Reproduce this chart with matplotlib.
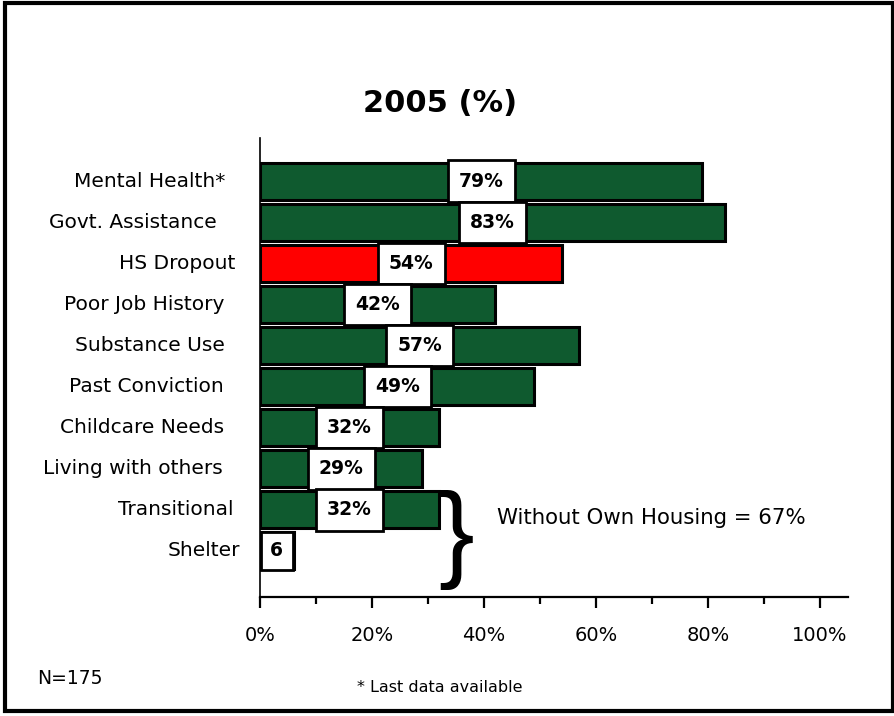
import matplotlib.pyplot as plt
from matplotlib.patches import Rectangle
from matplotlib.ticker import MultipleLocator, FuncFormatter

categories = ["Mental Health*", "Govt. Assistance", "HS Dropout", "Poor Job History",
              "Substance Use", "Past Conviction", "Childcare Needs", "Living with others",
              "Transitional", "Shelter"]
values = [79, 83, 54, 42, 57, 49, 32, 29, 32, 6]
value_labels = ["79%", "83%", "54%", "42%", "57%", "49%", "32%", "29%", "32%", "6"]
highlight = "HS Dropout"

# label offsets from the axis (points) - the original labels are not aligned evenly
label_offsets = [25, 31, 18, 26, 25, 26, 26, 27, 19, 14]

green = "#0F5A2F"
red = "#FF0000"

fig = plt.figure(figsize=(8.95, 7.16), dpi=100)
ax = fig.add_axes([0.2905, 0.1662, 0.657, 0.641])

ypos = list(range(len(categories)))
colors = [red if c == highlight else green for c in categories]
ax.barh(ypos, values, height=0.9, color=colors, edgecolor="black", linewidth=2.2)

for y, v, lab in zip(ypos, values, value_labels):
    pad = 0.6 if len(lab) > 1 else 0.5
    ax.text(v / 2, y, lab, ha="center", va="center", fontsize=13.5, fontweight="bold",
            bbox=dict(boxstyle=f"square,pad={pad}", fc="white", ec="black", lw=2))

for y, c, off in zip(ypos, categories, label_offsets):
    ax.annotate(c, xy=(0, y), xycoords=("axes fraction", "data"),
                xytext=(-off, 0), textcoords="offset points",
                ha="right", va="center", fontsize=14.5)

ax.set_xlim(0, 105)
ax.set_ylim(len(categories) - 1 + 1.12, -1.05)
ax.xaxis.set_major_locator(MultipleLocator(20))
ax.xaxis.set_minor_locator(MultipleLocator(10))
ax.xaxis.set_major_formatter(FuncFormatter(lambda x, p: f"{x:.0f}%" if x <= 100 else ""))
ax.tick_params(axis="x", which="major", direction="out", length=8, width=1.6,
               labelsize=14, pad=13)
ax.tick_params(axis="x", which="minor", direction="out", length=5, width=1.6)
ax.set_yticks([])
for s in ["top", "right"]:
    ax.spines[s].set_visible(False)
ax.spines["left"].set_linewidth(1.2)
ax.spines["bottom"].set_linewidth(1.6)

# brace for housing group
ax.text(35.0, 8.73, "}", ha="center", va="center", fontsize=77,
        family=["Liberation Sans", "DejaVu Sans"])
ax.text(42.3, 8.2, "Without Own Housing = 67%", ha="left", va="center", fontsize=15.3)

fig.text(440 / 895, 1 - 103 / 716, "2005 (%)", ha="center", va="center",
         fontsize=22, fontweight="bold")
fig.text(37 / 895, 1 - 678 / 716, "N=175", ha="left", va="center", fontsize=13.5,
         family=["Liberation Sans Narrow", "DejaVu Sans"])
fig.text(440 / 895, 1 - 688 / 716, "* Last data available", ha="center", va="center",
         fontsize=11.5, family=["Liberation Sans Narrow", "DejaVu Sans"])

fig.patches.append(Rectangle((5 / 895, 5 / 716), 888 / 895, 708 / 716,
                             transform=fig.transFigure, fill=False,
                             ec="black", lw=3))

fig.savefig("out.png", dpi=100)
